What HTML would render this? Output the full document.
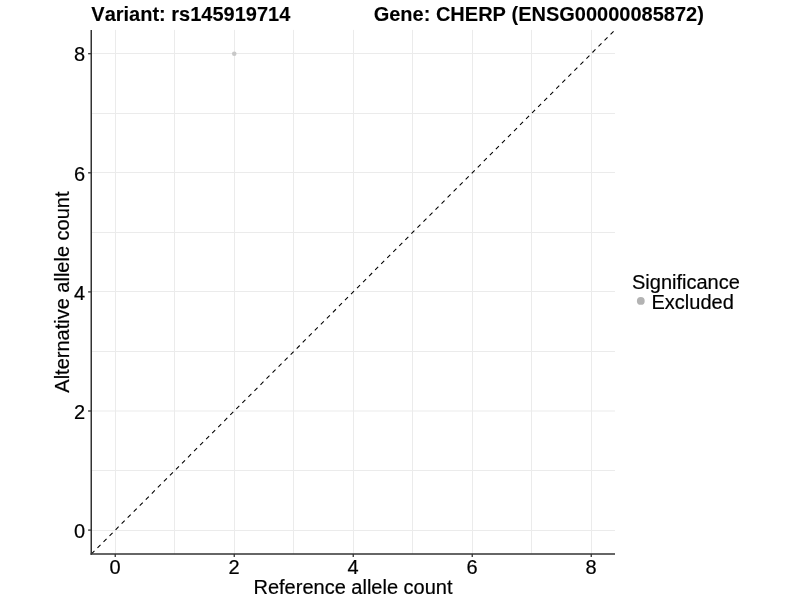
<!DOCTYPE html>
<html lang="en"><head><meta charset="utf-8"><title>Allele counts</title>
<style>html,body{margin:0;padding:0;background:#fff;}body{width:800px;height:600px;overflow:hidden;}svg{display:block;will-change:transform;}text{font-family:"Liberation Sans", Arial, Helvetica, sans-serif;font-kerning:none;stroke:#000;stroke-width:0.2px;stroke-linejoin:round;}</style>
</head><body>
<svg width="800" height="600" viewBox="0 0 800 600">
<rect x="0" y="0" width="800" height="600" fill="#ffffff"/>
<g stroke="#ebebeb" stroke-width="1" fill="none">
<line x1="115.50" y1="29.90" x2="115.50" y2="553.90"/>
<line x1="91.30" y1="530.50" x2="615.00" y2="530.50"/>
<line x1="174.50" y1="29.90" x2="174.50" y2="553.90"/>
<line x1="91.30" y1="470.50" x2="615.00" y2="470.50"/>
<line x1="234.50" y1="29.90" x2="234.50" y2="553.90"/>
<line x1="91.30" y1="411.00" x2="615.00" y2="411.00"/>
<line x1="293.50" y1="29.90" x2="293.50" y2="553.90"/>
<line x1="91.30" y1="351.50" x2="615.00" y2="351.50"/>
<line x1="353.50" y1="29.90" x2="353.50" y2="553.90"/>
<line x1="91.30" y1="291.50" x2="615.00" y2="291.50"/>
<line x1="412.50" y1="29.90" x2="412.50" y2="553.90"/>
<line x1="91.30" y1="232.50" x2="615.00" y2="232.50"/>
<line x1="472.50" y1="29.90" x2="472.50" y2="553.90"/>
<line x1="91.30" y1="172.50" x2="615.00" y2="172.50"/>
<line x1="531.50" y1="29.90" x2="531.50" y2="553.90"/>
<line x1="91.30" y1="113.50" x2="615.00" y2="113.50"/>
<line x1="591.50" y1="29.90" x2="591.50" y2="553.90"/>
<line x1="91.30" y1="53.50" x2="615.00" y2="53.50"/>
</g>
<line x1="91.45" y1="553.92" x2="615.05" y2="29.88" stroke="#000" stroke-width="1.07" stroke-dasharray="4.27 4.27"/>
<circle cx="234.25" cy="53.70" r="2.3" fill="#c8c8c8"/>
<g stroke="#333333" stroke-width="1.5" fill="none" stroke-linecap="butt">
<line x1="91.25" y1="29.90" x2="91.25" y2="554.65"/>
<line x1="90.50" y1="553.90" x2="615.00" y2="553.90"/>
</g>
<g stroke="#333333" stroke-width="1.3" fill="none">
<line x1="115.25" y1="553.90" x2="115.25" y2="557.10"/>
<line x1="88.10" y1="530.10" x2="91.30" y2="530.10"/>
<line x1="234.25" y1="553.90" x2="234.25" y2="557.10"/>
<line x1="88.10" y1="411.00" x2="91.30" y2="411.00"/>
<line x1="353.25" y1="553.90" x2="353.25" y2="557.10"/>
<line x1="88.10" y1="291.90" x2="91.30" y2="291.90"/>
<line x1="472.25" y1="553.90" x2="472.25" y2="557.10"/>
<line x1="88.10" y1="172.80" x2="91.30" y2="172.80"/>
<line x1="591.25" y1="553.90" x2="591.25" y2="557.10"/>
<line x1="88.10" y1="53.70" x2="91.30" y2="53.70"/>
</g>
<g font-size="20" fill="#000">
<text x="114.95" y="574.30" text-anchor="middle">0</text>
<text x="85.00" y="537.80" text-anchor="end">0</text>
<text x="233.95" y="574.30" text-anchor="middle">2</text>
<text x="85.00" y="418.70" text-anchor="end">2</text>
<text x="352.95" y="574.30" text-anchor="middle">4</text>
<text x="85.00" y="299.60" text-anchor="end">4</text>
<text x="471.95" y="574.30" text-anchor="middle">6</text>
<text x="85.00" y="180.50" text-anchor="end">6</text>
<text x="590.95" y="574.30" text-anchor="middle">8</text>
<text x="85.00" y="61.40" text-anchor="end">8</text>
</g>
<text x="353.0" y="594.0" font-size="20" text-anchor="middle" fill="#000">Reference allele count</text>
<text transform="translate(69.3,292.1) rotate(-90)" font-size="20" text-anchor="middle" fill="#000">Alternative allele count</text>
<text x="91.3" y="20.5" font-size="20" font-weight="bold" fill="#000" style="stroke-width:0.1px">Variant: rs145919714</text>
<text x="373.7" y="20.5" font-size="20" font-weight="bold" fill="#000" style="stroke-width:0.1px">Gene: CHERP (ENSG00000085872)</text>
<text x="632" y="288.7" font-size="20" fill="#000">Significance</text>
<circle cx="640.8" cy="300.9" r="3.9" fill="#b3b3b3"/>
<text x="651.5" y="309" font-size="20" fill="#000">Excluded</text>
</svg>
</body></html>
